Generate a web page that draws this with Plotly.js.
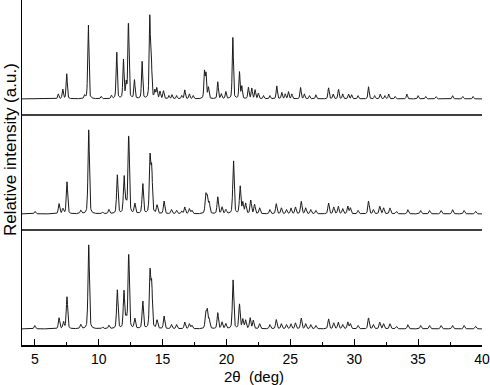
<!DOCTYPE html>
<html>
<head>
<meta charset="utf-8">
<script src="https://cdn.plot.ly/plotly-3.0.1.min.js"></script>
<style>html,body{margin:0;padding:0;background:#fff;}#chart{width:490px;height:385px;}</style>
</head>
<body>
<div id="chart"></div>
<script>
// Peak lists: 2θ positions (deg) and relative intensities (tallest = 100)
const topPos = [6.84,7.19,7.5,8.9,9.19,10.2,11.0,11.41,11.94,12.15,12.33,12.8,13.4,14.0,14.12,14.4,14.55,14.8,15.07,15.5,15.74,16.1,16.5,16.74,17.1,17.4,18.28,18.4,18.59,19.32,19.6,19.95,20.5,21.02,21.2,21.72,21.98,22.24,22.5,22.9,23.4,23.94,24.33,24.6,24.85,25.12,25.8,26.1,26.5,27.0,27.99,28.35,28.77,29.1,29.55,29.8,30.3,31.12,31.6,32.03,32.4,32.7,33.2,34.12,35.0,35.6,36.4,37.7,38.5,39.3];
const topInt = [6,12,31,4,94,3,4,59,48,19,95,23,46,100,45,10,13,9,10,4,5,4,4,11,6,4,33,30,14,21,6,9,76,33,15,14,13,11,7,4,4,16,8,6,9,6,14,6,4,5,14,6,12,6,6,5,4,15,4,6,4,6,3,6,4,3,3,4,3,3];

const midPos = [5.02,6.9,7.2,7.52,8.6,10.3,9.22,10.8,11.46,11.99,12.15,12.35,12.83,13.45,14.02,14.15,14.57,15.12,15.7,16.1,16.5,16.74,17.1,17.3,18.38,18.5,18.65,19.32,19.65,19.95,20.55,21.07,21.28,21.5,21.9,22.2,22.6,23.4,23.9,24.3,24.7,25.05,25.4,25.85,26.2,26.6,27.0,27.99,28.4,28.75,29.1,29.5,29.7,30.3,31.12,31.5,32.0,32.3,32.8,33.3,34.2,35.2,35.9,36.8,37.7,38.6,39.5];
const midInt = [3,12,6,38,4,2,100,5,46,44,11,93,12,36,66,52,10,15,5,4,3,8,6,4,22,19,13,20,8,5,64,33,13,12,16,11,7,5,12,7,5,7,8,15,7,5,4,13,8,9,6,9,7,4,15,5,9,7,7,3,5,4,4,4,5,4,3];

const botPos = [5.0,6.9,7.25,7.52,8.6,9.22,10.3,10.8,11.46,11.98,12.15,12.35,12.83,13.45,14.02,14.15,14.57,15.12,15.7,16.1,16.74,17.1,17.3,18.38,18.5,18.65,19.32,19.65,19.95,20.52,21.02,21.28,21.5,21.85,22.1,22.6,23.4,23.9,24.3,24.7,25.05,25.4,25.85,26.2,26.6,27.0,27.99,28.4,28.75,29.1,29.5,29.7,30.3,31.12,31.5,32.0,32.3,32.8,33.3,34.2,35.2,35.9,36.8,37.7,38.6,39.5];
const botInt = [4,13,8,38,5,100,2,4,46,44,11,89,12,33,66,51,10,15,5,5,8,6,4,18,21,11,19,8,6,58,29,11,10,13,10,6,5,11,6,5,6,7,13,6,5,4,12,7,8,5,8,6,4,13,5,8,6,6,3,5,4,4,4,4,4,3];

const xTicks = [5,10,15,20,25,30,35,40];
const xTickText = ['5','10','15','20','25','30','35','40'];

function profile(pos, ints, fwhm) {
  const xs = [], ys = [];
  for (let i = 0; i <= 1800; i++) {
    const x = 4 + i * 0.02;
    let y = 0;
    for (let k = 0; k < pos.length; k++) {
      const d = (x - pos[k]) / fwhm;
      if (Math.abs(d) > 25) continue;
      const L = 1 / (1 + 4 * d * d);
      const G = Math.exp(-4 * Math.LN2 * d * d);
      y += ints[k] * (0.4 * L + 0.6 * G);
    }
    xs.push(x); ys.push(y);
  }
  return {xs, ys};
}

function trace(pos, ints, fwhm, offset, scale) {
  const p = profile(pos, ints, fwhm);
  return {
    x: p.xs,
    y: p.ys.map(v => offset + 0.14 + v / 100 * scale),
    type: 'scatter', mode: 'lines',
    line: {color: '#1a1a1a', width: 1},
    hoverinfo: 'skip', showlegend: false
  };
}

const data = [
  trace(topPos, topInt, 0.11, 2, 0.70),
  trace(midPos, midInt, 0.13, 1, 0.73),
  trace(botPos, botInt, 0.13, 0, 0.73)
];

const font = "Arial, 'Liberation Sans', Helvetica, sans-serif";
const layout = {
  width: 490, height: 385,
  margin: {l: 22, r: 8, t: 0, b: 40},
  paper_bgcolor: '#fff', plot_bgcolor: '#fff',
  font: {family: font, color: '#000', size: 14},
  xaxis: {
    range: [4, 40], tickmode: 'array', tickvals: xTicks, ticktext: xTickText,
    ticks: 'inside', ticklen: 6, tickwidth: 1, tickcolor: '#000',
    minor: {dtick: 2.5, ticks: 'inside', ticklen: 3, tickcolor: '#000', showgrid: false},
    showline: true, linecolor: '#000', linewidth: 1.5, mirror: false,
    showgrid: false, zeroline: false,
    ticklabeloverflow: 'allow', ticklabelstandoff: 1,
    tickfont: {size: 14, family: font}
  },
  yaxis: {
    range: [0, 3], showticklabels: false, ticks: '', showgrid: false, zeroline: false,
    showline: true, linecolor: '#000', linewidth: 1.5
  },
  shapes: [1, 2].map(v => ({
    type: 'line', xref: 'paper', yref: 'y', x0: 0, x1: 1, y0: v, y1: v,
    line: {color: '#000', width: 1.5}
  })),
  annotations: [{
    text: 'Relative intensity (a.u.)', xref: 'paper', yref: 'paper',
    x: -0.026, y: 0.565, xanchor: 'center', yanchor: 'middle',
    textangle: -90, showarrow: false, font: {size: 17, family: font}
  }, {
    text: '2θ  (deg)', xref: 'paper', yref: 'paper',
    x: 0.505, y: -0.0905, xanchor: 'center', yanchor: 'middle',
    showarrow: false, font: {size: 15, family: font}
  }]
};

Plotly.newPlot('chart', data, layout, {displayModeBar: false, staticPlot: true});
</script>
</body>
</html>
